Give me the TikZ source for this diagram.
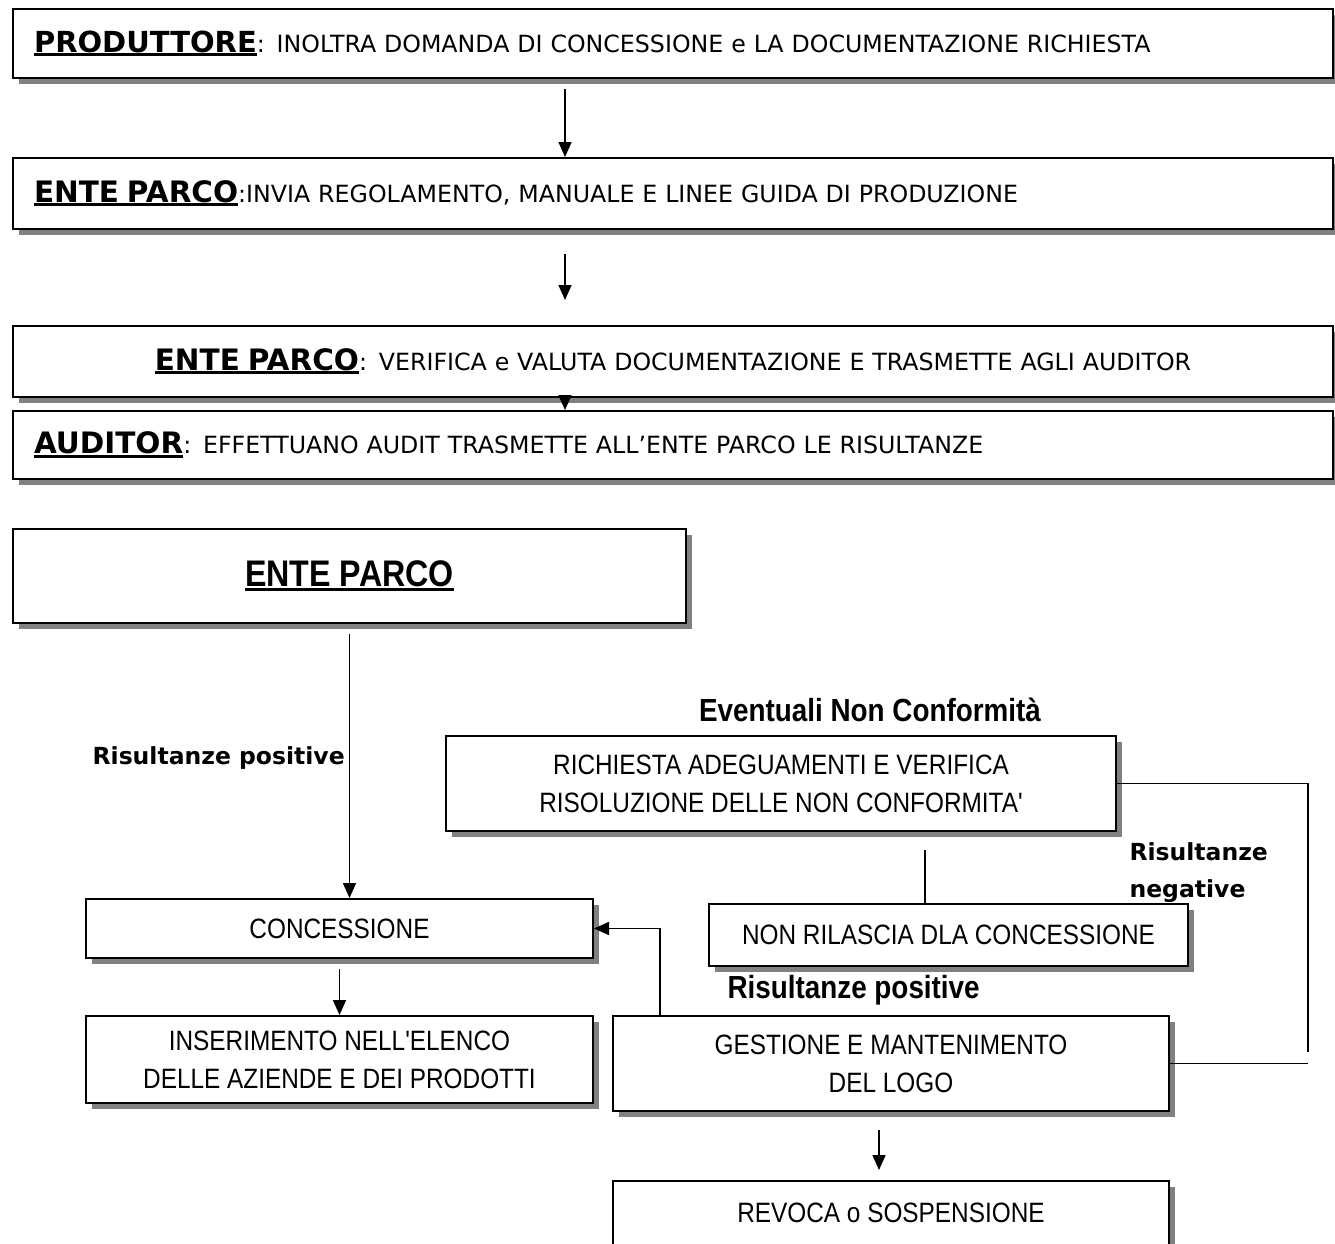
\documentclass[tikz,border=0pt]{standalone}
\usepackage{fontspec}
\setmainfont{DejaVu Sans}
\newfontfamily\narrowfont[FakeStretch=0.87]{Liberation Sans}
\usetikzlibrary{arrows.meta,shadows,calc}

% underlined heading, thick rule
\newcommand\ulhead[2]{\setbox0=\hbox{\fontsize{#1}{#1}\selectfont\bfseries #2}\rlap{\rule[-4pt]{\wd0}{3pt}}\box0}

\begin{document}
\begin{tikzpicture}[x=1pt, y=-1pt,
        box/.style={draw, line width=2pt, fill=white, anchor=north west, inner sep=0pt,
                drop shadow={shadow xshift=6pt, shadow yshift=-6pt, fill=black!50, opacity=1}},
        wide/.style={box, text width=1278pt, inner xsep=21pt, align=left,
                font=\fontsize{23.7}{28}\selectfont},
        small/.style={box, align=center, font=\narrowfont\fontsize{28}{38}\selectfont},
        arr/.style={-{Triangle[length=15pt,width=13pt]}, line width=1.6pt},
        link/.style={line width=1.6pt},
        lab/.style={font=\fontsize{23.5}{37}\selectfont\bfseries, align=left},
        nlab/.style={font=\narrowfont\fontsize{32}{34}\selectfont\bfseries}
    ]
    \useasboundingbox (0,0) rectangle (1335,1244);
    \coordinate (axis) at (565,0);
    \coordinate (rail) at (1308,1052);
    \coordinate (nrtop) at (925,850);

    % upper chain
    \node[wide, minimum height=69pt] (produttore) at (12,8)
        {\ulhead{29}{PRODUTTORE}: INOLTRA DOMANDA DI CONCESSIONE e LA DOCUMENTAZIONE RICHIESTA};
    \node[wide, minimum height=71pt] (invio) at (12,157)
        {\ulhead{29.5}{ENTE PARCO}:INVIA REGOLAMENTO, MANUALE E LINEE GUIDA DI PRODUZIONE};
    \node[wide, minimum height=71pt, align=center] (verifica) at (12,325)
        {\ulhead{29.5}{ENTE PARCO}: VERIFICA e VALUTA DOCUMENTAZIONE E TRASMETTE AGLI AUDITOR};
    \node[wide, minimum height=68pt] (audit) at (12,410)
        {\ulhead{29.5}{AUDITOR}: EFFETTUANO AUDIT TRASMETTE ALL'ENTE PARCO LE RISULTANZE};
    \node[box, minimum width=673pt, minimum height=94pt] (ente) at (12,528)
        {\narrowfont\ulhead{37}{ENTE PARCO}};

    \draw[arr] ($(produttore.south -| axis)+(0,10)$) -- (invio.north -| axis);
    \draw[arr] ($(invio.south -| axis)+(0,24)$) -- ($(verifica.north -| axis)+(0,-25)$);
    \draw[arr] ($(verifica.south -| axis)+(0,2)$) -- (audit.north -| axis);

    % lower part
    \node[nlab] (nc) at (870,710) {Eventuali Non Conformit\`a};
    \node[small, minimum width=670pt, minimum height=95pt] (richiesta) at (445,735)
        {RICHIESTA ADEGUAMENTI E VERIFICA\\RISOLUZIONE DELLE NON CONFORMITA'};
    \node[lab, anchor=west] (negative) at (1126,873) {Risultanze\\negative};
    \node[small, minimum width=479pt, minimum height=62pt] (nonrilascio) at (708,903)
        {NON RILASCIA DLA CONCESSIONE};
    \node[small, minimum width=507pt, minimum height=59pt] (concessione) at (85,898)
        {CONCESSIONE};
    \node[small, minimum width=507pt, minimum height=87pt] (inserimento) at (85,1015)
        {INSERIMENTO NELL'ELENCO\\DELLE AZIENDE E DEI PRODOTTI};
    \node[nlab, anchor=west] (positive) at (724,990) {Risultanze positive};
    \node[small, minimum width=556pt, minimum height=95pt] (gestione) at (612,1015)
        {GESTIONE E MANTENIMENTO\\DEL LOGO};
    \node[small, minimum width=556pt, minimum height=64pt] (revoca) at (612,1180)
        {REVOCA o SOSPENSIONE};

    \draw[arr] ($(ente.south)+(0,10)$) -- node[lab, left, pos=0.47, inner xsep=4pt] (esito) {Risultanze positive}
        (ente.south |- concessione.north);
    \draw[arr] ($(concessione.south)+(0,10)$) -- (inserimento.north);
    \draw[arr] ($(gestione.north west)+(48,0)$) |- (concessione.east);
    \draw[link] (richiesta.east) -| (rail);
    \draw[link] (gestione.east) -- (gestione.east -| rail);
    \draw[link] (nrtop) -- (nrtop |- nonrilascio.north);
    \draw[arr] ($(gestione.south)+(-12,18)$) -- ($(revoca.north)+(-12,-10)$);
\end{tikzpicture}
\end{document}
